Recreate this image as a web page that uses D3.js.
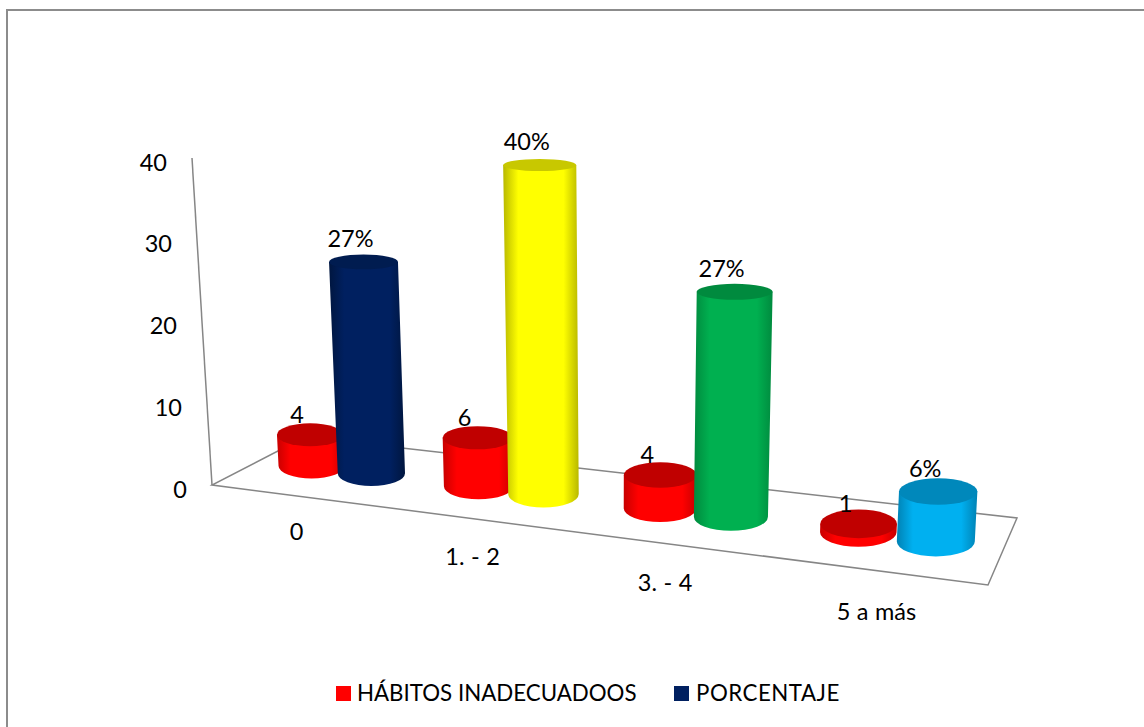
<!DOCTYPE html>
<html><head><meta charset="utf-8">
<script src="https://cdn.jsdelivr.net/npm/d3@7/dist/d3.min.js"></script>
<style>html,body{margin:0;padding:0;background:#fff}svg{display:block}text{font-family:Lato,"Noto Sans",sans-serif;fill:#000}</style>
</head><body><svg id="c" width="1144" height="727"></svg>
<script>
const categories = ["0", "1. - 2", "3. - 4", "5 a más"];
const seriesNames = ["HÁBITOS INADECUADOOS", "PORCENTAJE"];
const habitos = [4, 6, 4, 1];
const porcentaje = [27, 40, 27, 6];
const yTicks = [0, 10, 20, 30, 40];
const redColors = ["#ff0000", "#c00000", "#c80000"];
const pointColors = [
  ["#002060", "#001c50", "#00163f"],
  ["#ffff00", "#c8c800", "#b8b800"],
  ["#00b050", "#008a3e", "#008a3e"],
  ["#00b0f0", "#0088bb", "#0082b4"]
];
const numSize = 23.5, legendSize = 22.3;

const svg = d3.select("#c");
const defs = svg.append("defs");

// floor projection: unit square to the floor's four screen corners
const FL=[212,485],FR=[988,585],BR=[1017,518],BL=[305,437];
const dx1=FR[0]-BR[0],dx2=BL[0]-BR[0],sx=FL[0]-FR[0]+BR[0]-BL[0];
const dy1=FR[1]-BR[1],dy2=BL[1]-BR[1],sy=FL[1]-FR[1]+BR[1]-BL[1];
const den=dx1*dy2-dx2*dy1;
const pg=(sx*dy2-dx2*sy)/den, ph=(dx1*sy-sx*dy1)/den;
const pa=FR[0]-FL[0]+pg*FR[0], pb=BL[0]-FL[0]+ph*BL[0];
const pd=FR[1]-FL[1]+pg*FR[1], pe=BL[1]-FL[1]+ph*BL[1];
function floorPt(u,v){const w=pg*u+ph*v+1;return [(pa*u+pb*v+FL[0])/w,(pd*u+pe*v+FL[1])/w];}

const xOuter = d3.scaleBand().domain(categories).range([0,1]);
const xInner = d3.scaleBand().domain(seriesNames).range([0.0015,xOuter.bandwidth()+0.0015]).paddingInner(0).paddingOuter(0.36);
const yHeight = d3.scaleLinear().domain([0,40]).range([0,327]);
const depthFactor = d3.scaleLinear().domain([473,494,515]).range([0.957,1.006,1.019]).clamp(true);
const ryScale = d3.scalePow().exponent(2).domain([165,541]).range([6,15]).clamp(true);
const leanAt = (cx,h)=>cx+(cx-620)*0.00015*h;

const ax = "#868686";
// outer frame
svg.append("path").attr("d","M7,727V10H1144").attr("fill","none").attr("stroke","#8c8c8c").attr("stroke-width",2);
// floor and wall
svg.append("path").attr("d",d3.line()([BL,FL,FR,BR,BL])).attr("fill","none").attr("stroke",ax).attr("stroke-width",1.5);
svg.append("line").attr("x1",FL[0]).attr("y1",FL[1]).attr("x2",leanAt(FL[0],yHeight(40))).attr("y2",FL[1]-yHeight(40)).attr("stroke",ax).attr("stroke-width",1.5);

// y axis labels
const yAxisScale = d3.scaleLinear().domain([0,40]).range([FL[1],FL[1]-yHeight(40)]);
const yAxis = svg.append("g")
  .call(d3.axisLeft(yAxisScale).tickValues(yTicks).tickSize(0).tickFormat(d3.format("d")));
yAxis.select(".domain").remove();
yAxis.selectAll("text")
  .attr("font-size",numSize).style("font-family",'Lato,"Noto Sans",sans-serif')
  .attr("text-anchor","end").attr("dy",null).attr("dominant-baseline","central")
  .attr("x",d=>leanAt(FL[0],yHeight(d))-25)
  .attr("y",3);

function cylinder(id,cx,baseY,value,cols){
  const h = yHeight(value)*depthFactor(baseY);
  const topY = baseY-h, topCx = leanAt(cx,h);
  const rxB = 33+(cx-306)*0.0095, rxT = rxB+0.004*h;
  const ryB = ryScale(baseY), ryT = ryScale(topY);
  const grad = defs.append("linearGradient").attr("id",id);
  [[0,cols[2]],[0.2,cols[0]],[0.8,cols[0]],[1,cols[2]]].forEach(s=>grad.append("stop").attr("offset",s[0]).attr("stop-color",s[1]));
  const g = svg.append("g");
  g.append("path").attr("fill",`url(#${id})`)
    .attr("d",`M${topCx-rxT},${topY}L${cx-rxB},${baseY}A${rxB},${ryB} 0 0 0 ${cx+rxB},${baseY}L${topCx+rxT},${topY}Z`);
  g.append("ellipse").attr("cx",topCx).attr("cy",topY).attr("rx",rxT).attr("ry",ryT).attr("fill",cols[1]);
  return {topCx,topY};
}

const labels = [];
categories.forEach((c,i)=>{
  const uR = xOuter(c)+xInner(seriesNames[0])+xInner.bandwidth()/2;
  const uP = xOuter(c)+xInner(seriesNames[1])+xInner.bandwidth()/2;
  const pR = floorPt(uR,0.5), pP = floorPt(uP,0.5);
  const a = cylinder("r"+i,pR[0],pR[1],habitos[i],redColors);
  labels.push({t:String(habitos[i]),x:a.topCx-13,y:a.topY-21});
  const b = cylinder("p"+i,pP[0],pP[1],porcentaje[i],pointColors[i]);
  labels.push({t:porcentaje[i]+"%",x:b.topCx-13,y:b.topY-24});
  const u = xOuter(c)+xOuter.bandwidth()/2;
  const f = floorPt(u,0);
  svg.append("text").attr("x",f[0]+2).attr("y",f[1]+35+6*u).attr("font-size",numSize)
    .attr("word-spacing",0.5).attr("text-anchor","middle").attr("dominant-baseline","central").text(c);
});
svg.selectAll("text.dl").data(labels).enter().append("text").attr("class","dl")
  .attr("x",d=>d.x).attr("y",d=>d.y).attr("font-size",numSize)
  .attr("text-anchor","middle").attr("dominant-baseline","central").text(d=>d.t);

// legend
const legend = [[seriesNames[0],redColors[0],336,357,0],[seriesNames[1],pointColors[0][0],674,696,0.5]];
legend.forEach(l=>{
  svg.append("rect").attr("x",l[2]).attr("y",686).attr("width",15).attr("height",15).attr("fill",l[1]);
  svg.append("text").attr("x",l[3]).attr("y",701).attr("font-size",legendSize).attr("letter-spacing",l[4]).text(l[0]);
});
</script></body></html>
